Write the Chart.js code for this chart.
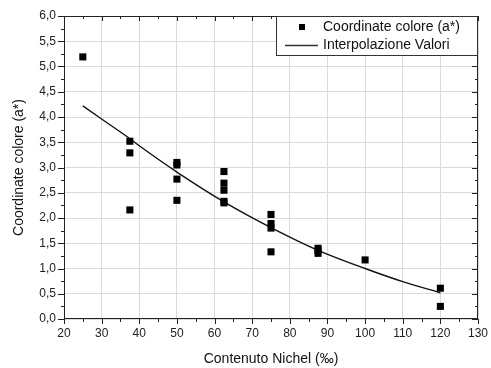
<!DOCTYPE html>
<html>
<head>
<meta charset="utf-8">
<script src="https://cdn.jsdelivr.net/npm/chart.js@4.4.1/dist/chart.umd.min.js"></script>
<style>
  html, body { margin: 0; padding: 0; background: #fff; }
  #wrap { width: 491px; height: 368px; }
</style>
</head>
<body>
<div id="wrap"><canvas id="chart"></canvas></div>
<script>
// measured points (x = Nichel ‰, y = a*)
const nichel = [25, 37.5, 37.5, 37.5, 50, 50, 50, 50, 62.5, 62.5, 62.5, 62.5, 62.5, 75, 75, 75, 75, 87.5, 87.5, 87.5, 100, 120, 120];
const coordA = [5.19, 3.52, 3.29, 2.16, 3.10, 3.05, 2.77, 2.35, 2.92, 2.69, 2.55, 2.33, 2.30, 2.07, 1.89, 1.80, 1.33, 1.40, 1.36, 1.30, 1.17, 0.61, 0.25];

// fitted curve
const fitX = [25, 30, 37.5, 40, 50, 62.5, 75, 87.5, 100, 110, 120];
const fitY = [4.22, 3.96, 3.57, 3.43, 2.91, 2.32, 1.81, 1.36, 1.00, 0.74, 0.52];

const seriesLabels = ['Coordinate colore (a*)', 'Interpolazione Valori'];
const xTitle = 'Contenuto Nichel (‰)';
const yTitle = 'Coordinate colore (a*)';

const FONT = "'Liberation Sans', Arial, sans-serif";
const comma = v => v.toFixed(1).replace('.', ',');

// frame, tick marks (major + minor) and the legend box
const framePlugin = {
    id: 'frame',
    afterDraw(chart) {
        const { ctx, chartArea: a, scales } = chart;
        const xs = scales.x, ys = scales.y;
        ctx.save();
        ctx.strokeStyle = '#222';
        ctx.lineWidth = 1;
        ctx.strokeRect(a.left + 0.5, a.top + 0.5, a.right - a.left - 1, a.bottom - a.top - 1);

        ctx.beginPath();
        for (let v = 20; v <= 130; v += 5) {
            const px = Math.round(xs.getPixelForValue(v)) + 0.5;
            const len = v % 10 === 0 ? 5 : 3;
            ctx.moveTo(px, a.bottom); ctx.lineTo(px, a.bottom + len);
            ctx.moveTo(px, a.top); ctx.lineTo(px, a.top + len);
        }
        for (let i = 0; i <= 24; i++) {
            const v = i * 0.25;
            const py = Math.round(ys.getPixelForValue(v)) + 0.5;
            const len = i % 2 === 0 ? 6 : 3;
            ctx.moveTo(a.left, py); ctx.lineTo(a.left - len, py);
            ctx.moveTo(a.right, py); ctx.lineTo(a.right - len, py);
        }
        ctx.stroke();

        // legend
        const lx = 276, ly = a.top, lw = a.right - lx, lh = 39;
        ctx.fillStyle = '#fff';
        ctx.fillRect(lx, ly, lw, lh);
        ctx.strokeStyle = '#333';
        ctx.strokeRect(lx + 0.5, ly + 0.5, lw - 1, lh);
        ctx.fillStyle = '#000';
        ctx.fillRect(299, ly + 8, 6, 6);
        ctx.beginPath();
        ctx.lineWidth = 1.3;
        ctx.moveTo(285, ly + 29.5); ctx.lineTo(318, ly + 29.5);
        ctx.stroke();
        ctx.font = '14px ' + FONT;
        ctx.textBaseline = 'middle';
        ctx.fillStyle = '#111';
        ctx.fillText(chart.data.datasets[0].label, 323, ly + 11);
        ctx.fillText(chart.data.datasets[1].label, 323, ly + 29);
        ctx.restore();
    }
};

new Chart(document.getElementById('chart'), {
    type: 'scatter',
    data: {
        datasets: [
            {
                label: seriesLabels[0],
                data: nichel.map((x, i) => ({ x, y: coordA[i] })),
                pointStyle: 'rect',
                pointRadius: 5,
                backgroundColor: '#000',
                borderColor: '#000',
                borderWidth: 0,
                order: 1
            },
            {
                type: 'line',
                label: seriesLabels[1],
                data: fitX.map((x, i) => ({ x, y: fitY[i] })),
                borderColor: '#111',
                borderWidth: 1.4,
                pointRadius: 0,
                fill: false,
                cubicInterpolationMode: 'monotone',
                order: 2
            }
        ]
    },
    options: {
        responsive: true,
        maintainAspectRatio: false,
        animation: false,
        layout: { padding: { left: 0, right: 13, top: 16, bottom: 0 } },
        plugins: {
            legend: { display: false },
            tooltip: { enabled: false }
        },
        scales: {
            x: {
                type: 'linear',
                min: 20,
                max: 130,
                afterFit: s => { s.height = 49; s.paddingLeft = 0; s.paddingRight = 0; },
                ticks: {
                    stepSize: 10,
                    padding: 7,
                    color: '#222',
                    font: { family: FONT, size: 12 }
                },
                grid: { color: '#dadada', drawTicks: false },
                border: { display: false },
                title: {
                    display: true,
                    text: xTitle,
                    color: '#111',
                    font: { family: FONT, size: 14 },
                    padding: { top: 0, bottom: 0 }
                }
            },
            y: {
                min: 0,
                max: 6,
                afterFit: s => { s.width = 64; s.paddingTop = 0; s.paddingBottom = 0; },
                ticks: {
                    stepSize: 0.5,
                    padding: 8,
                    color: '#222',
                    font: { family: FONT, size: 12 },
                    callback: v => comma(v)
                },
                grid: { color: '#dadada', drawTicks: false },
                border: { display: false },
                title: {
                    display: true,
                    text: yTitle,
                    color: '#111',
                    font: { family: FONT, size: 14 },
                    padding: { top: 11, bottom: 0 }
                }
            }
        }
    },
    plugins: [framePlugin]
});
</script>
</body>
</html>
